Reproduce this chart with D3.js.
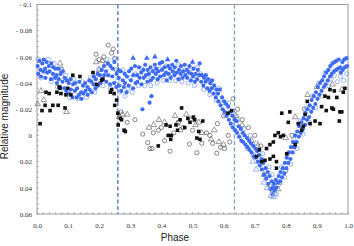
<!DOCTYPE html>
<html>
<head>
<meta charset="utf-8">
<script src="https://cdn.jsdelivr.net/npm/d3@7"></script>
<style>
  body { margin: 0; background: #fff; }
  svg { display: block; }
</style>
</head>
<body>
<div id="chart"></div>
<script>
// light curve data, [phase, relative magnitude]
var blueDots = [
  [0.002,-0.053],[0.004,-0.047],[0.008,-0.057],[0.011,-0.05],[0.013,-0.045],[0.017,-0.055],[0.02,-0.049],
  [0.022,-0.058],[0.026,-0.051],[0.027,-0.044],[0.031,-0.056],[0.033,-0.048],[0.038,-0.053],
  [0.04,-0.049],[0.045,-0.043],[0.046,-0.055],[0.051,-0.047],[0.052,-0.052],[0.058,-0.044],[0.06,-0.051],
  [0.063,-0.046],[0.064,-0.04],[0.069,-0.051],[0.07,-0.043],[0.075,-0.037],[0.076,-0.047],
  [0.082,-0.041],[0.083,-0.049],[0.088,-0.036],[0.089,-0.044],[0.094,-0.034],[0.096,-0.042],
  [0.102,-0.04],[0.103,-0.032],[0.108,-0.043],[0.109,-0.035],[0.114,-0.029],[0.116,-0.039],
  [0.122,-0.034],[0.123,-0.04],[0.128,-0.029],[0.129,-0.036],[0.135,-0.031],[0.136,-0.041],
  [0.142,-0.033],[0.143,-0.028],[0.148,-0.038],[0.149,-0.032],[0.155,-0.04],[0.156,-0.034],
  [0.162,-0.037],[0.163,-0.031],[0.168,-0.042],[0.169,-0.035],[0.175,-0.041],[0.176,-0.033],
  [0.182,-0.039],[0.183,-0.045],[0.188,-0.036],[0.189,-0.043],[0.195,-0.047],[0.196,-0.038],
  [0.202,-0.046],[0.203,-0.04],[0.208,-0.05],[0.209,-0.043],[0.215,-0.053],[0.216,-0.046],
  [0.222,-0.049],[0.223,-0.041],[0.228,-0.055],[0.229,-0.046],[0.235,-0.039],[0.236,-0.053],
  [0.242,-0.045],[0.243,-0.051],[0.248,-0.04],[0.249,-0.056],[0.255,-0.037],[0.256,-0.047],
  [0.263,-0.044],[0.264,-0.038],[0.269,-0.049],[0.271,-0.034],[0.276,-0.042],[0.279,-0.037],
  [0.282,-0.047],[0.283,-0.04],[0.288,-0.033],[0.289,-0.045],[0.295,-0.038],[0.296,-0.049],
  [0.302,-0.042],[0.303,-0.051],[0.309,-0.036],[0.31,-0.046],[0.315,-0.053],[0.317,-0.04],
  [0.322,-0.046],[0.323,-0.041],[0.328,-0.052],[0.33,-0.044],[0.335,-0.048],[0.336,-0.039],[0.339,-0.02],
  [0.342,-0.05],[0.343,-0.044],[0.348,-0.054],[0.35,-0.046],[0.355,-0.041],[0.356,-0.05],[0.362,-0.025],[0.368,-0.03],
  [0.36,-0.047],[0.365,-0.052],[0.366,-0.042],[0.372,-0.049],[0.373,-0.044],[0.379,-0.054],
  [0.382,-0.047],[0.383,-0.051],[0.388,-0.043],[0.39,-0.049],[0.395,-0.055],[0.396,-0.045],
  [0.402,-0.05],[0.403,-0.056],[0.408,-0.046],[0.41,-0.052],[0.415,-0.048],[0.417,-0.042],
  [0.422,-0.053],[0.423,-0.047],[0.428,-0.051],[0.43,-0.044],[0.435,-0.054],[0.437,-0.049],
  [0.442,-0.046],[0.443,-0.052],[0.448,-0.057],[0.45,-0.048],[0.455,-0.043],[0.457,-0.05],
  [0.462,-0.047],[0.463,-0.053],[0.468,-0.044],[0.47,-0.049],[0.475,-0.054],[0.477,-0.046],
  [0.482,-0.05],[0.483,-0.044],[0.488,-0.048],[0.49,-0.053],[0.495,-0.042],[0.497,-0.047],
  [0.502,-0.045],[0.503,-0.051],[0.508,-0.041],[0.51,-0.047],[0.515,-0.043],[0.517,-0.05],
  [0.522,-0.046],[0.523,-0.055],[0.528,-0.041],[0.53,-0.046],[0.535,-0.038],[0.537,-0.044],
  [0.542,-0.041],[0.543,-0.046],[0.548,-0.036],[0.55,-0.043],[0.555,-0.034],[0.557,-0.04],
  [0.562,-0.036],[0.563,-0.042],[0.568,-0.032],[0.57,-0.038],[0.575,-0.029],[0.577,-0.035],
  [0.582,-0.032],[0.583,-0.026],[0.588,-0.035],[0.59,-0.023],[0.595,-0.029],[0.597,-0.02],
  [0.602,-0.026],[0.603,-0.018],[0.608,-0.024],[0.61,-0.015],[0.615,-0.022],[0.617,-0.012],
  [0.622,-0.018],[0.623,-0.009],[0.628,-0.015],[0.63,-0.006],[0.635,-0.012],[0.637,-0.004],
  [0.642,-0.011],[0.643,-0.002],[0.648,-0.007],[0.65,0.001],[0.655,-0.005],[0.657,0.004],
  [0.662,-0.002],[0.663,0.005],[0.668,0.0],[0.67,0.007],[0.675,0.002],[0.677,0.009],
  [0.682,0.004],[0.683,0.011],[0.688,0.006],[0.69,0.013],[0.695,0.008],[0.697,0.016],
  [0.702,0.01],[0.703,0.017],[0.708,0.012],[0.71,0.02],[0.715,0.015],[0.717,0.023],
  [0.722,0.018],[0.723,0.026],[0.728,0.021],[0.73,0.03],[0.735,0.025],[0.737,0.033],
  [0.742,0.028],[0.743,0.037],[0.748,0.031],[0.75,0.041],[0.755,0.035],[0.757,0.045],[0.759,0.04],
  [0.762,0.037],[0.763,0.042],[0.768,0.034],[0.77,0.04],[0.775,0.036],[0.777,0.031],
  [0.782,0.035],[0.783,0.028],[0.788,0.032],[0.79,0.025],[0.795,0.029],[0.797,0.021],
  [0.802,0.025],[0.803,0.017],[0.808,0.021],[0.81,0.013],[0.815,0.018],[0.817,0.009],
  [0.822,0.013],[0.823,0.005],[0.828,0.009],[0.83,0.0],[0.835,0.005],[0.837,-0.003],
  [0.842,0.001],[0.843,-0.007],[0.848,-0.002],[0.85,-0.01],[0.855,-0.005],[0.857,-0.013],
  [0.862,-0.008],[0.863,-0.017],[0.868,-0.012],[0.87,-0.02],[0.875,-0.014],[0.877,-0.023],
  [0.882,-0.018],[0.883,-0.027],[0.888,-0.021],[0.89,-0.03],[0.895,-0.024],[0.897,-0.033],
  [0.902,-0.028],[0.903,-0.037],[0.908,-0.031],[0.91,-0.04],[0.915,-0.034],[0.917,-0.042],
  [0.922,-0.037],[0.923,-0.045],[0.928,-0.039],[0.93,-0.048],[0.935,-0.042],[0.937,-0.05],
  [0.942,-0.045],[0.943,-0.053],[0.948,-0.047],[0.95,-0.055],[0.955,-0.049],[0.957,-0.056],
  [0.962,-0.05],[0.963,-0.057],[0.968,-0.051],[0.97,-0.058],[0.975,-0.052],[0.977,-0.048],
  [0.982,-0.056],[0.983,-0.05],[0.988,-0.058],[0.99,-0.052],[0.995,-0.059],[0.997,-0.053]
];

var blueRings = [
  [0.004,-0.058],[0.013,-0.044],[0.024,-0.049],[0.036,-0.058],[0.046,-0.041],[0.055,-0.055],[0.066,-0.037],
  [0.079,-0.051],[0.092,-0.046],[0.105,-0.029],[0.118,-0.043],[0.131,-0.028],[0.146,-0.041],[0.159,-0.029],
  [0.172,-0.044],[0.186,-0.033],[0.199,-0.051],[0.212,-0.038],[0.225,-0.058],[0.236,-0.036],[0.248,-0.058],
  [0.259,-0.042],[0.266,-0.033],[0.276,-0.05],[0.283,-0.03],[0.292,-0.036],[0.299,-0.044],[0.306,-0.033],
  [0.316,-0.047],[0.326,-0.038],[0.336,-0.051],[0.346,-0.038],[0.356,-0.045],[0.366,-0.038],[0.376,-0.049],
  [0.386,-0.04],[0.396,-0.051],[0.406,-0.042],[0.416,-0.053],[0.426,-0.042],[0.436,-0.047],[0.446,-0.042],
  [0.456,-0.054],[0.466,-0.041],[0.476,-0.05],[0.486,-0.04],[0.496,-0.051],[0.506,-0.038],[0.516,-0.052],
  [0.526,-0.047],[0.536,-0.035],[0.546,-0.042],[0.556,-0.031],[0.566,-0.038],[0.576,-0.027],[0.586,-0.036],
  [0.596,-0.025],[0.606,-0.016],[0.616,-0.025],[0.626,-0.008],[0.636,-0.016],[0.646,-0.012],[0.656,0.0],
  [0.666,-0.005],[0.676,0.01],[0.686,0.0],[0.696,0.015],[0.706,0.006],[0.716,0.022],[0.726,0.014],
  [0.736,0.032],[0.746,0.024],[0.756,0.03],[0.766,0.044],[0.776,0.038],[0.786,0.024],[0.796,0.032],
  [0.806,0.014],[0.816,0.022],[0.826,0.003],[0.836,0.01],[0.846,-0.011],[0.856,-0.001],[0.866,-0.021],
  [0.876,-0.01],[0.886,-0.03],[0.896,-0.021],[0.906,-0.04],[0.916,-0.03],[0.926,-0.048],[0.936,-0.038],
  [0.946,-0.043],[0.956,-0.046],[0.966,-0.041],[0.976,-0.045],[0.986,-0.042],[0.996,-0.047]
];

var blueTris = [
  [0.262,-0.05],[0.309,-0.059],[0.353,-0.059],[0.379,-0.06],[0.42,-0.058],[0.5,-0.056]
];

var blueOpenTris = [
  [0.694,0.02],[0.705,0.026],[0.73,0.036],[0.74,0.04],[0.752,0.046],[0.76,0.047],[0.768,0.045]
];

var blackSquares = [
  [0.01,-0.009],[0.016,-0.019],[0.026,-0.023],[0.029,-0.033],[0.039,-0.032],[0.042,-0.019],[0.051,-0.023],
  [0.064,-0.033],[0.068,-0.023],[0.071,-0.037],[0.074,-0.036],[0.077,-0.032],[0.09,-0.021],[0.093,-0.031],
  [0.099,-0.036],[0.109,-0.031],[0.115,-0.046],[0.138,-0.045],[0.18,-0.048],[0.192,-0.039],[0.208,-0.042],
  [0.212,-0.043],[0.236,-0.033],[0.24,-0.035],[0.248,-0.032],[0.25,-0.023],[0.256,-0.027],[0.26,-0.017],
  [0.261,-0.008],[0.268,-0.013],[0.272,-0.012],[0.28,-0.004],[0.284,-0.003],[0.39,0.008],[0.415,-0.008],
  [0.422,0.0],[0.428,-0.007],[0.432,0.0],[0.43,0.003],[0.447,-0.008],[0.452,-0.004],[0.46,-0.012],
  [0.465,-0.021],[0.475,-0.006],[0.485,-0.013],[0.492,-0.01],[0.503,-0.014],[0.507,-0.012],[0.514,0.002],
  [0.52,-0.003],[0.524,0.003],[0.533,-0.011],[0.614,-0.017],[0.626,-0.019],[0.706,0.016],[0.715,0.011],
  [0.722,0.02],[0.733,0.019],[0.738,0.01],[0.749,0.007],[0.749,0.018],[0.76,0.005],[0.76,0.016],
  [0.765,0.0],[0.77,0.02],[0.77,0.025],[0.776,-0.002],[0.783,0.001],[0.787,-0.017],[0.792,0.0],
  [0.803,0.014],[0.808,-0.01],[0.813,-0.018],[0.83,0.007],[0.84,-0.009],[0.851,-0.004],[0.856,-0.007],
  [0.862,-0.016],[0.869,-0.026],[0.878,-0.009],[0.894,-0.011],[0.91,-0.009],[0.915,-0.022],[0.926,-0.03],
  [0.93,-0.019],[0.937,-0.029],[0.942,-0.035],[0.948,-0.021],[0.953,-0.02],[0.956,-0.034],[0.964,-0.029],
  [0.972,-0.011],[0.974,-0.018],[0.98,-0.018],[0.985,-0.033],[0.99,-0.036]
];

var openCircles = [
  [0.19,-0.062],[0.2,-0.058],[0.215,-0.06],[0.229,-0.069],[0.24,-0.063],[0.25,-0.059],[0.222,-0.055],
  [0.245,-0.066],[0.255,-0.05],[0.27,-0.018],[0.29,-0.01],[0.315,-0.012],[0.34,-0.001],[0.356,0.0055],
  [0.363,0.01],[0.37,0.01],[0.374,-0.002],[0.39,-0.004],[0.4,-0.006],[0.41,0.004],[0.428,0.012],
  [0.44,-0.002],[0.455,-0.01],[0.47,-0.006],[0.49,0.0066],[0.5,-0.004],[0.514,0.0132],[0.53,0.006],
  [0.545,-0.002],[0.556,0.0],[0.565,0.006],[0.578,0.0136],[0.59,0.009],[0.603,0.01],[0.615,0.0],
  [0.62,0.005],[0.58,-0.009],[0.6,-0.015],[0.63,-0.028],[0.645,-0.02],[0.66,-0.012],[0.68,-0.006],
  [0.7,0.0],[0.72,0.008],[0.8,0.027],[0.82,0.0],[0.86,-0.02]
];

var openTriangles = [
  [0.002,-0.024],[0.013,-0.034],[0.022,-0.027],[0.074,-0.055],[0.08,-0.05],[0.095,-0.018],[0.19,-0.056],
  [0.2,-0.05],[0.21,-0.057],[0.265,-0.014],[0.275,-0.016],[0.29,-0.016],[0.36,-0.006],[0.375,-0.008],
  [0.392,-0.012],[0.41,-0.01],[0.444,-0.015],[0.45,-0.009],[0.46,-0.004],[0.48,-0.016],[0.495,-0.012],
  [0.51,-0.008],[0.52,-0.01],[0.53,-0.002],[0.56,0.003],[0.57,-0.004],[0.585,0.005],[0.6,0.007],
  [0.64,-0.015],[0.66,-0.008],[0.69,0.004],[0.71,0.008],[0.73,0.03],[0.749,0.038],[0.76,0.042],
  [0.775,0.041],[0.78,0.036],[0.8,0.002],[0.83,-0.014],[0.87,-0.031],[0.9,-0.037],[0.95,-0.039],[0.98,-0.035]
];

var eclipseMarks = [0.26, 0.635];
var xTicks = [0, 0.1, 0.2, 0.3, 0.4, 0.5, 0.6, 0.7, 0.8, 0.9, 1.0];
var yTicks = [-0.1, -0.08, -0.06, -0.04, -0.02, 0, 0.02, 0.04, 0.06];

var margin = {top: 4.5, right: 6, bottom: 32, left: 37},
    width = 354 - margin.left - margin.right,
    height = 246 - margin.top - margin.bottom;

var svg = d3.select("#chart")
  .append("svg")
    .attr("width", 354)
    .attr("height", 246)
  .append("g")
    .attr("transform", "translate(" + margin.left + "," + margin.top + ")");

var x = d3.scaleLinear().domain([0, 1]).range([0, width]);
var y = d3.scaleLinear().domain([-0.1, 0.06]).range([0, height]);

var axisColor = "#9a9a9a";

// minor ticks (inside)
svg.append("g").selectAll("line")
  .data(d3.range(0, 1.0001, 0.02))
  .enter().append("line")
    .attr("x1", function(d) { return x(d); })
    .attr("x2", function(d) { return x(d); })
    .attr("y1", height).attr("y2", height - 2)
    .attr("stroke", axisColor).attr("stroke-width", 0.7);

svg.append("g").selectAll("line")
  .data(d3.range(-0.1, 0.0601, 0.004))
  .enter().append("line")
    .attr("y1", function(d) { return y(d); })
    .attr("y2", function(d) { return y(d); })
    .attr("x1", 0).attr("x2", 2)
    .attr("stroke", axisColor).attr("stroke-width", 0.7);

// frame
svg.append("rect")
  .attr("width", width).attr("height", height)
  .attr("fill", "none")
  .attr("stroke", axisColor).attr("stroke-width", 1);

var fmtY = function(d) {
  if (Math.abs(d) < 1e-9) return "0";
  var s = d3.format("")(+Math.abs(d).toFixed(2));
  return d < 0 ? "- " + s : s;
};

var xAxis = svg.append("g")
  .attr("transform", "translate(0," + height + ")")
  .call(d3.axisBottom(x).tickValues(xTicks).tickFormat(d3.format(".1f")).tickSize(0).tickPadding(9));
var yAxis = svg.append("g")
  .call(d3.axisLeft(y).tickValues(yTicks).tickFormat(fmtY).tickSize(0).tickPadding(5));

[xAxis, yAxis].forEach(function(a) {
  a.select(".domain").remove();
  a.selectAll("text")
    .style("font-family", "'Liberation Serif', serif")
    .style("font-size", "7px")
    .attr("fill", "#333");
});

// eclipse markers
svg.selectAll(".mark")
  .data(eclipseMarks)
  .enter().append("line")
    .attr("class", "mark")
    .attr("x1", function(d) { return x(d); })
    .attr("x2", function(d) { return x(d); })
    .attr("y1", 0).attr("y2", height)
    .attr("stroke", function(d, i) { return i == 0 ? "#3f72c6" : "#7c9fd8"; })
    .attr("stroke-width", 1.3)
    .attr("stroke-dasharray", "4,2.5");

var plot = svg.append("g");

var tri = d3.symbol().type(d3.symbolTriangle).size(14);
var sq = d3.symbol().type(d3.symbolSquare).size(13);

plot.selectAll(".otri")
  .data(openTriangles)
  .enter().append("path")
    .attr("d", tri)
    .attr("transform", function(d) { return "translate(" + x(d[0]) + "," + y(d[1]) + ")"; })
    .attr("fill", "none").attr("stroke", "#6a6a6a").attr("stroke-width", 0.7);

plot.selectAll(".ocirc")
  .data(openCircles)
  .enter().append("circle")
    .attr("cx", function(d) { return x(d[0]); })
    .attr("cy", function(d) { return y(d[1]); })
    .attr("r", 2.1)
    .attr("fill", "none").attr("stroke", "#555").attr("stroke-width", 0.7);

plot.selectAll(".bring")
  .data(blueRings)
  .enter().append("circle")
    .attr("cx", function(d) { return x(d[0]); })
    .attr("cy", function(d) { return y(d[1]); })
    .attr("r", 2.1)
    .attr("fill", "none").attr("stroke", "#7f9ee8").attr("stroke-width", 0.8);

plot.selectAll(".bdot")
  .data(blueDots)
  .enter().append("circle")
    .attr("cx", function(d) { return x(d[0]); })
    .attr("cy", function(d) { return y(d[1]); })
    .attr("r", 2.1)
    .attr("fill", "#3d6cf2");

plot.selectAll(".btri")
  .data(blueTris)
  .enter().append("path")
    .attr("d", tri)
    .attr("transform", function(d) { return "translate(" + x(d[0]) + "," + y(d[1]) + ")"; })
    .attr("fill", "#3d6cf2");

plot.selectAll(".botri")
  .data(blueOpenTris)
  .enter().append("path")
    .attr("d", tri)
    .attr("transform", function(d) { return "translate(" + x(d[0]) + "," + y(d[1]) + ")"; })
    .attr("fill", "none").attr("stroke", "#7f9ee8").attr("stroke-width", 0.8);

plot.selectAll(".bsq")
  .data(blackSquares)
  .enter().append("path")
    .attr("d", sq)
    .attr("transform", function(d) { return "translate(" + x(d[0]) + "," + y(d[1]) + ")"; })
    .attr("fill", "#111");

// axis titles
svg.append("text")
  .attr("x", 138).attr("y", height + 27)
  .attr("text-anchor", "middle")
  .style("font-family", "'Liberation Sans', Arial, sans-serif")
  .style("font-size", "10px")
  .attr("fill", "#222")
  .text("Phase");

svg.append("text")
  .attr("transform", "rotate(-90)")
  .attr("x", -112).attr("y", -29)
  .attr("text-anchor", "middle")
  .style("font-family", "'Liberation Sans', Arial, sans-serif")
  .style("font-size", "10px")
  .attr("fill", "#222")
  .text("Relative magnitude");
</script>
</body>
</html>
